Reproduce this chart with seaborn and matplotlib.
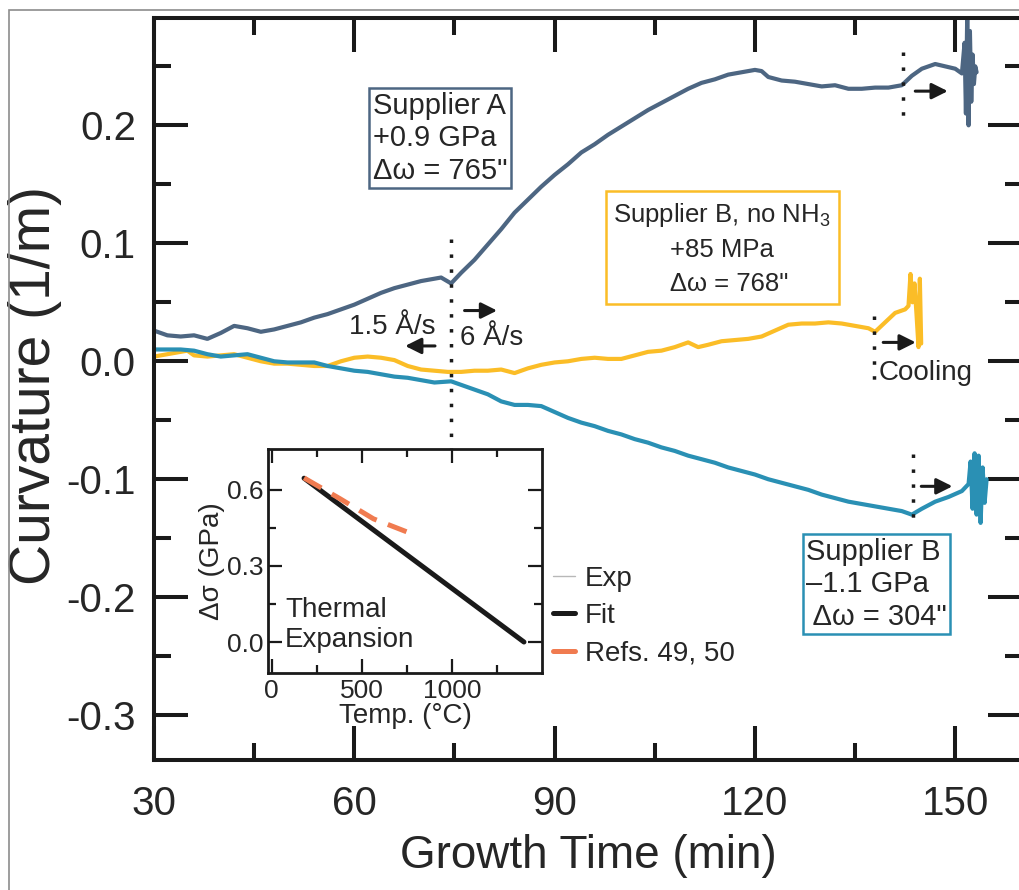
import matplotlib
matplotlib.use("Agg")
import matplotlib.pyplot as plt
import seaborn as sns
from matplotlib.patches import Rectangle
from matplotlib.lines import Line2D
from matplotlib.ticker import FormatStrFormatter

# ---------------- data ----------------
time_a = [30, 32, 34, 36, 38, 40, 42, 44, 46, 48, 50, 52, 54, 56, 58, 60, 62, 64, 66, 68, 70, 72, 73, 74.5,
          76, 78, 80, 82, 84, 86, 88, 90, 92, 94, 96, 98, 100, 102, 104, 106, 108, 110, 112, 114, 116, 118,
          120, 121, 122, 124, 126, 128, 130, 132, 134, 136, 138, 140, 142, 143.5, 145, 147, 148.5, 150, 151,
          151.4, 151.6, 151.8, 152.0, 152.2, 152.4, 152.6, 152.8, 153.0, 153.2]
curv_a = [0.026, 0.022, 0.021, 0.022, 0.019, 0.024, 0.030, 0.028, 0.025, 0.027, 0.030, 0.033, 0.037, 0.040,
          0.044, 0.048, 0.053, 0.058, 0.062, 0.065, 0.068, 0.070, 0.071, 0.066,
          0.075, 0.086, 0.099, 0.112, 0.126, 0.137, 0.148, 0.158, 0.167, 0.177, 0.184, 0.192, 0.199, 0.206,
          0.213, 0.219, 0.225, 0.231, 0.236, 0.239, 0.243, 0.245,
          0.247, 0.246, 0.241, 0.238, 0.237, 0.235, 0.233, 0.234, 0.231, 0.231, 0.232, 0.232, 0.234, 0.242,
          0.248, 0.252, 0.250, 0.248, 0.244,
          0.270, 0.210, 0.295, 0.200, 0.280, 0.220, 0.260, 0.235, 0.250, 0.245]

time_c = [30, 32, 34, 35, 36, 38, 40, 42, 44, 46, 48, 50, 52, 54, 56, 58, 60, 62, 64, 66, 68, 70, 72, 74,
          76, 78, 80, 82, 84, 86, 88, 90, 92, 94, 96, 98, 100, 102, 104, 106, 108, 110, 111.5, 113, 115,
          117, 119, 121, 123, 125, 127, 129, 131, 133, 135, 137, 138, 139.5, 141, 142.5,
          143.0, 143.3, 143.6, 143.9, 144.2, 144.5, 144.7, 144.9]
curv_c = [0.004, 0.006, 0.008, 0.009, 0.005, 0.004, 0.005, 0.006, 0.003, 0.000, -0.002, -0.002, -0.003,
          -0.004, -0.004, 0.000, 0.003, 0.004, 0.003, 0.001, -0.004, -0.007, -0.008, -0.009,
          -0.009, -0.008, -0.008, -0.007, -0.010, -0.006, -0.003, -0.001, 0.000, 0.002, 0.003, 0.002, 0.002,
          0.005, 0.008, 0.009, 0.012, 0.016, 0.012, 0.014, 0.017,
          0.018, 0.019, 0.021, 0.026, 0.031, 0.032, 0.032, 0.033, 0.032, 0.030, 0.028, 0.025, 0.033, 0.041,
          0.044,
          0.047, 0.074, 0.050, 0.066, 0.040, 0.012, 0.070, 0.015]

time_b = [30, 32, 34, 36, 38, 40, 42, 44, 46, 48, 50, 52, 54, 56, 58, 60, 62, 64, 66, 68, 70, 72, 74.5,
          76, 78, 80, 82, 84, 86, 88, 90, 92, 94, 96, 98, 100, 102, 104, 106, 108, 110, 112, 114, 116, 118,
          120, 122, 124, 126, 128, 130, 132, 134, 136, 138, 140, 142, 143.5, 145, 147, 149, 151, 152,
          152.3, 152.6, 152.9, 153.2, 153.5, 153.8, 154.1, 154.4, 154.7]
curv_b = [0.010, 0.010, 0.010, 0.009, 0.006, 0.004, 0.005, 0.006, 0.003, 0.000, -0.001, -0.001, -0.001,
          -0.004, -0.006, -0.008, -0.009, -0.011, -0.013, -0.014, -0.016, -0.018, -0.017,
          -0.020, -0.024, -0.028, -0.034, -0.037, -0.037, -0.038, -0.043, -0.048, -0.052, -0.055, -0.059,
          -0.062, -0.066, -0.069, -0.073, -0.076, -0.080, -0.083, -0.086, -0.090, -0.093,
          -0.096, -0.100, -0.103, -0.106, -0.109, -0.113, -0.116, -0.119, -0.121, -0.123, -0.125, -0.127,
          -0.130, -0.125, -0.119, -0.115, -0.110, -0.104,
          -0.085, -0.125, -0.078, -0.130, -0.080, -0.137, -0.090, -0.120, -0.100]

temp_exp = [180, 1400]
sigma_exp = [0.645, 0.0]
temp_fit = [180, 1400]
sigma_fit = [0.645, 0.0]
temp_ref = [180, 380, 565, 778]
sigma_ref = [0.646, 0.564, 0.485, 0.426]

main_xticks = [30, 60, 90, 120, 150]
main_yticks = [-0.3, -0.2, -0.1, 0.0, 0.1, 0.2]
inset_xticks = [0, 500, 1000]
inset_yticks = [0.0, 0.3, 0.6]

# ---------------- style ----------------
sns.set_theme(style="ticks")
plt.rcParams["font.family"] = ["Liberation Sans", "DejaVu Sans"]
plt.rcParams["axes.unicode_minus"] = False
plt.rcParams["mathtext.default"] = "regular"

C_A = "#4d6682"
C_B = "#2a90b4"
C_C = "#fbbd27"
C_REF = "#f07b50"
LW = 3.0

W, H = 1019, 890
fig = plt.figure(figsize=(W / 100, H / 100), dpi=100)
fig.patches.append(Rectangle((9 / W, -0.05), 1.2, 1 - 10 / H + 0.05, transform=fig.transFigure,
                             fill=False, edgecolor="#8c8c8c", lw=1.2))

ax = fig.add_axes([154 / W, 1 - 760 / H, 868 / W, 742 / H])
for t, c, col in [(time_a, curv_a, C_A), (time_c, curv_c, C_C), (time_b, curv_b, C_B)]:
    sns.lineplot(x=t, y=c, ax=ax, color=col, lw=LW, sort=False, estimator=None)

ax.set_xlim(30, 160)
ax.set_ylim(-0.338, 0.291)
ax.set_xticks(main_xticks)
ax.set_xticks([45, 75, 105, 135], minor=True)
ax.set_yticks(main_yticks)
ax.set_yticks([-0.25, -0.15, -0.05, 0.05, 0.15, 0.25], minor=True)
ax.yaxis.set_major_formatter(FormatStrFormatter("%.1f"))
ax.tick_params(which="both", direction="in", top=True, right=True, width=2.9, color="k",
               labelsize=29)
ax.tick_params(which="major", length=24.5)
ax.tick_params(which="minor", length=12)
ax.tick_params(axis="x", pad=18)
ax.tick_params(axis="y", pad=13)
for s in ax.spines.values():
    s.set_linewidth(2.9)
    s.set_color("k")
ax.set_xlabel("Growth Time (min)", fontsize=33, labelpad=8)
ax.set_ylabel("Curvature (1/m)", fontsize=41)
ax.yaxis.set_label_coords(-0.106, 0.505)

# dotted markers
dot = dict(color="k", lw=2.5, linestyle=(0, (1, 3.3)))
ax.plot([74.5, 74.5], [0.104, -0.083], **dot)
ax.plot([142.2, 142.2], [0.262, 0.204], **dot)
ax.plot([137.9, 137.9], [0.038, -0.019], **dot)
ax.plot([143.7, 143.7], [-0.079, -0.136], **dot)

arr = dict(arrowstyle="-|>", color="k", lw=2.2, mutation_scale=24)
ax.annotate("", xy=(149.3, 0.229), xytext=(143.6, 0.229), arrowprops=arr)
ax.annotate("", xy=(144.5, 0.016), xytext=(138.8, 0.016), arrowprops=arr)
ax.annotate("", xy=(150.0, -0.106), xytext=(144.5, -0.106), arrowprops=arr)
ax.annotate("", xy=(67.2, 0.013), xytext=(72.5, 0.013), arrowprops=arr)
ax.annotate("", xy=(81.8, 0.043), xytext=(76.1, 0.043), arrowprops=arr)

ax.text(72.1, 0.029, "1.5 Å/s", fontsize=20, ha="right", va="center")
ax.text(75.8, 0.020, "6 Å/s", fontsize=20, ha="left", va="center")
ax.text(138.6, -0.010, "Cooling", fontsize=20, ha="left", va="center")

ax.text(72.85, 0.189, "Supplier A\n+0.9 GPa\nΔω = 765\"", fontsize=21, ha="center", va="center",
        multialignment="left", linespacing=1.2,
        bbox=dict(boxstyle="square,pad=0.12", fc="white", ec=C_A, lw=1.8))
ax.text(115.1, 0.0957, "Supplier B, no $\\mathregular{NH_3}$\n+85 MPa\n  Δω = 768\"", fontsize=18.5,
        ha="center", va="center", multialignment="center", linespacing=1.5,
        bbox=dict(boxstyle="square,pad=0.3", fc="white", ec=C_C, lw=1.8))
ax.text(138.2, -0.189, "Supplier B\n–1.1 GPa\n Δω = 304\"", fontsize=21, ha="center", va="center",
        multialignment="left", linespacing=1.2,
        bbox=dict(boxstyle="square,pad=0.12", fc="white", ec=C_B, lw=1.8))

# ---------------- inset ----------------
axi = fig.add_axes([268 / W, 1 - 673 / H, 274 / W, 224 / H])
sns.lineplot(x=temp_exp, y=sigma_exp, ax=axi, color="#b8b8b8", lw=1.0, estimator=None)
sns.lineplot(x=temp_fit, y=sigma_fit, ax=axi, color="k", lw=3.6, estimator=None)
sns.lineplot(x=temp_ref, y=sigma_ref, ax=axi, color=C_REF, lw=3.6, estimator=None)
axi.lines[-1].set_dashes((4, 2.4))
axi.set_xlim(-20, 1500)
axi.set_ylim(-0.122, 0.76)
axi.set_xticks(inset_xticks)
axi.set_xticks([250, 750, 1250], minor=True)
axi.set_yticks(inset_yticks)
axi.set_yticks([0.15, 0.45], minor=True)
axi.yaxis.set_major_formatter(FormatStrFormatter("%.1f"))
axi.tick_params(which="both", direction="in", top=True, right=True, width=1.6, color="k",
                labelsize=19)
axi.tick_params(which="major", length=10)
axi.tick_params(which="minor", length=6)
axi.tick_params(axis="x", pad=4)
axi.tick_params(axis="y", pad=3)
for s in axi.spines.values():
    s.set_linewidth(2.0)
    s.set_color("k")
axi.set_xlabel("Temp. (°C)", fontsize=20, labelpad=0)
axi.set_ylabel("Δσ (GPa)", fontsize=20, labelpad=2)
axi.text(74, 0.067, "Thermal\nExpansion", fontsize=20, ha="left", va="center", linespacing=1.2)

handles = [Line2D([], [], color="#b8b8b8", lw=1.0),
           Line2D([], [], color="k", lw=3.6),
           Line2D([], [], color=C_REF, lw=3.6)]
fig.legend(handles, ["Exp", "Fit", "Refs. 49, 50"], loc="upper left",
           bbox_to_anchor=(553 / W, 1 - 566 / H), frameon=False, fontsize=20,
           handlelength=0.8, handletextpad=0.35, labelspacing=0.4, borderpad=0, borderaxespad=0)

fig.savefig("out.png", dpi=100)
